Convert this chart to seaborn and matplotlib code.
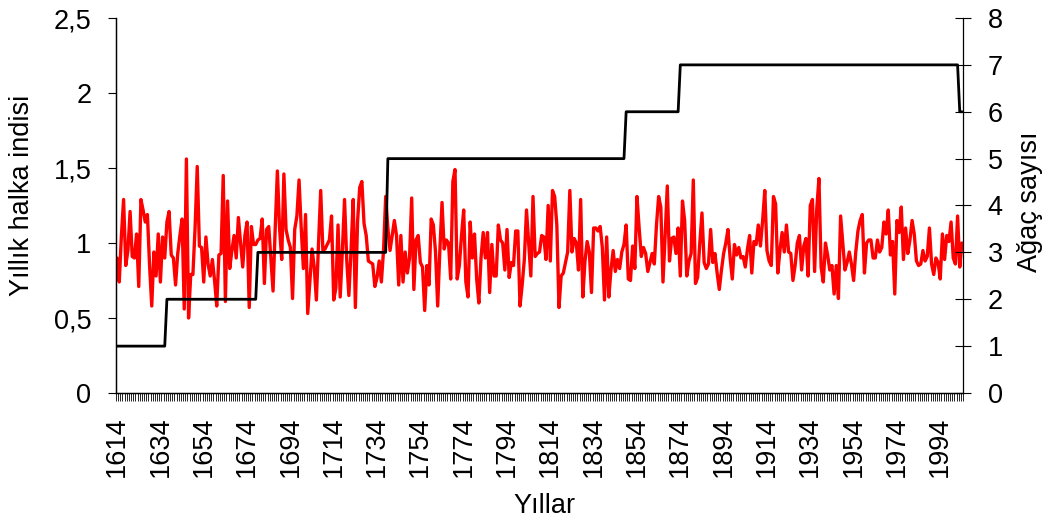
import numpy as np
import pandas as pd
import matplotlib
matplotlib.use("Agg")
import matplotlib.pyplot as plt
import seaborn as sns

# Yearly ring-width index, 1614-2004
first_year = 1614
ring_index = [
    0.90, 0.74, 1.05, 1.29, 0.85, 0.95, 1.21, 0.91, 0.90, 1.06,
    0.71, 1.29, 1.22, 1.14, 1.19, 0.85, 0.58, 0.94, 0.78, 1.06,
    0.74, 1.04, 0.90, 1.14, 1.21, 0.92, 0.90, 0.72, 0.93, 1.05,
    1.16, 0.56, 1.56, 0.50, 0.79, 0.79, 1.10, 1.51, 0.98, 0.97,
    0.74, 1.04, 0.86, 0.78, 0.89, 0.75, 0.58, 0.92, 0.93, 1.45,
    0.61, 1.28, 0.83, 0.95, 1.05, 0.90, 1.17, 1.00, 0.84, 1.05,
    1.14, 0.57, 1.11, 0.99, 0.99, 1.02, 1.03, 1.16, 0.73, 1.09,
    1.11, 0.90, 0.68, 1.10, 1.48, 1.10, 0.89, 1.46, 1.09, 1.02,
    0.97, 0.63, 1.09, 1.18, 1.42, 1.10, 0.83, 1.19, 0.53, 0.75,
    0.96, 0.84, 0.62, 1.00, 1.35, 0.95, 0.96, 0.99, 1.02, 1.18,
    0.62, 0.70, 1.12, 0.64, 0.95, 1.29, 0.89, 0.65, 0.95, 1.29,
    0.57, 1.14, 1.37, 1.41, 1.13, 1.05, 0.88, 0.87, 0.86, 0.71,
    0.77, 0.88, 0.74, 0.95, 1.31, 1.10, 0.95, 1.05, 1.15, 1.05,
    0.72, 1.05, 0.74, 0.94, 0.80, 0.90, 1.30, 0.69, 1.02, 1.05,
    0.87, 0.84, 0.55, 0.85, 0.72, 1.16, 1.12, 0.94, 0.58, 0.95,
    1.27, 0.96, 1.02, 1.00, 0.76, 1.41, 1.49, 0.76, 0.85, 1.05,
    1.22, 0.74, 0.64, 1.14, 0.90, 1.06, 0.76, 0.60, 0.90, 1.07,
    0.90, 1.07, 0.67, 0.99, 0.78, 0.78, 1.12, 1.02, 1.00, 0.82,
    1.09, 0.77, 0.87, 0.85, 1.08, 1.08, 0.58, 0.72, 0.89, 1.22,
    1.00, 0.78, 1.31, 0.91, 0.93, 0.94, 1.05, 1.04, 0.89, 1.25,
    0.88, 1.35, 1.31, 1.12, 0.57, 0.78, 0.80, 0.87, 0.94, 1.35,
    0.94, 1.03, 1.00, 0.82, 1.29, 0.64, 0.88, 1.01, 0.94, 0.67,
    1.10, 1.10, 1.08, 1.11, 0.97, 0.62, 1.04, 0.64, 0.82, 0.95,
    0.81, 0.89, 0.83, 0.94, 0.99, 1.12, 0.76, 0.75, 0.98, 0.83,
    1.31, 1.10, 0.91, 0.97, 0.93, 0.81, 0.87, 0.93, 0.86, 1.12,
    1.31, 1.24, 0.74, 1.05, 1.38, 0.88, 1.03, 1.04, 0.93, 1.10,
    0.78, 1.28, 1.15, 0.78, 0.88, 0.93, 1.42, 0.73, 0.77, 1.00,
    1.20, 0.87, 0.83, 0.86, 1.09, 0.87, 0.93, 0.80, 0.69, 0.82,
    0.93, 1.00, 1.09, 0.90, 0.76, 0.99, 0.92, 0.97, 0.90, 0.91,
    0.84, 0.96, 1.05, 0.80, 1.01, 0.99, 1.12, 0.98, 1.15, 1.35,
    0.95, 0.88, 0.85, 1.31, 1.26, 0.80, 0.95, 1.07, 0.94, 1.12,
    0.94, 0.93, 0.75, 0.85, 1.00, 1.05, 0.82, 0.98, 1.03, 0.78,
    1.25, 1.29, 0.81, 1.23, 1.43, 0.84, 0.74, 1.00, 0.92, 0.82,
    0.85, 0.66, 0.85, 0.63, 1.18, 1.00, 0.82, 0.87, 0.94, 0.86,
    0.75, 0.94, 1.08, 1.15, 1.19, 0.80, 1.00, 1.02, 1.02, 0.90,
    0.90, 1.02, 0.94, 0.97, 1.14, 1.06, 1.22, 0.92, 1.01, 0.66,
    1.15, 1.07, 1.24, 0.89, 1.10, 0.93, 1.02, 1.15, 1.06, 0.88,
    0.85, 0.86, 0.95, 0.88, 0.91, 1.10, 0.86, 0.79, 0.90, 0.87,
    0.76, 1.06, 0.89, 1.05, 1.01, 1.14, 0.90, 0.86, 1.18, 0.84,
    1.00,
]

# Number of trees in the sample: the year each count starts, and the count
tree_change_years = [1614, 1637, 1679, 1739, 1849, 1874, 2003]
tree_levels = [1, 2, 3, 5, 6, 7, 6]

# Axis tick labels
left_ticks = [0, 0.5, 1, 1.5, 2, 2.5]
left_tick_labels = ["0", "0,5", "1", "1,5", "2", "2,5"]
right_ticks = [0, 1, 2, 3, 4, 5, 6, 7, 8]
year_labels = list(range(1614, 2004, 20))

years = np.arange(first_year, first_year + len(ring_index))
last_year = years[-1]
durations = np.diff(tree_change_years + [last_year + 1])
tree_counts = np.repeat(tree_levels, durations)

df = pd.DataFrame({"Yıl": years, "indeks": ring_index, "agac": tree_counts})

sns.set_theme(style="white")
plt.rcParams["font.family"] = ["Liberation Sans", "DejaVu Sans"]
for key in ("text.color", "axes.labelcolor", "xtick.color", "ytick.color",
            "axes.edgecolor"):
    plt.rcParams[key] = "black"
FS = 19.5

fig = plt.figure(figsize=(10.5, 5.2), dpi=100)
fig.patch.set_facecolor("white")
ax = fig.add_axes([116 / 1050, 1 - 393 / 520, (963 - 116) / 1050, (393 - 18) / 520])
ax2 = ax.twinx()

sns.lineplot(data=df, x="Yıl", y="indeks", ax=ax, color="#FF0000", linewidth=2.4)
sns.lineplot(data=df, x="Yıl", y="agac", ax=ax2, color="black", linewidth=2.0)

ax.set_xlim(first_year - 0.5, last_year + 0.5)
ax.set_ylim(0, 2.5)
ax2.set_ylim(0, 8)

# x axis: a tick mark between every year, labels every 20 years
ax.set_xticks(year_labels)
ax.set_xticklabels([str(y) for y in year_labels], rotation=90, fontsize=FS)
ax.set_xticks(np.arange(first_year - 0.5, last_year + 1.0, 1.0), minor=True)
ax.tick_params(axis="x", which="major", length=0, pad=17, labelcolor="black")
ax.tick_params(axis="x", which="minor", length=5.8, width=0.6, color="black",
               direction="out", bottom=True)

ax.set_yticks(left_ticks)
ax.set_yticklabels(left_tick_labels, fontsize=FS)
ax.tick_params(axis="y", which="major", length=5.8, width=0.8, color="black",
               direction="out", pad=12, left=True, labelcolor="black")

ax2.set_yticks(right_ticks)
ax2.set_yticklabels([str(t) for t in right_ticks], fontsize=FS)
ax2.tick_params(axis="y", which="major", length=11.5, width=0.8, color="black",
                direction="inout", pad=12, right=True, labelcolor="black")

for a in (ax, ax2):
    a.spines["top"].set_visible(False)
    for side in ("left", "right", "bottom"):
        a.spines[side].set_color("black")
        a.spines[side].set_linewidth(0.9)
    a.grid(False)
ax.spines["right"].set_visible(False)

ax.set_xlabel("Yıllar", fontsize=FS, color="black")
ax.xaxis.set_label_coords(0.506, -0.302)
ax.xaxis.label.set_va("center")

ax.set_ylabel("Yıllık halka indisi", fontsize=FS, va="center", color="black")
ax.yaxis.set_label_coords(-0.111, 0.528)

ax2.set_ylabel("Ağaç sayısı", fontsize=FS, va="center", rotation=90, color="black")
ax2.yaxis.set_label_coords(1.079, 0.51)

fig.savefig("out.png", dpi=100, facecolor="white")
